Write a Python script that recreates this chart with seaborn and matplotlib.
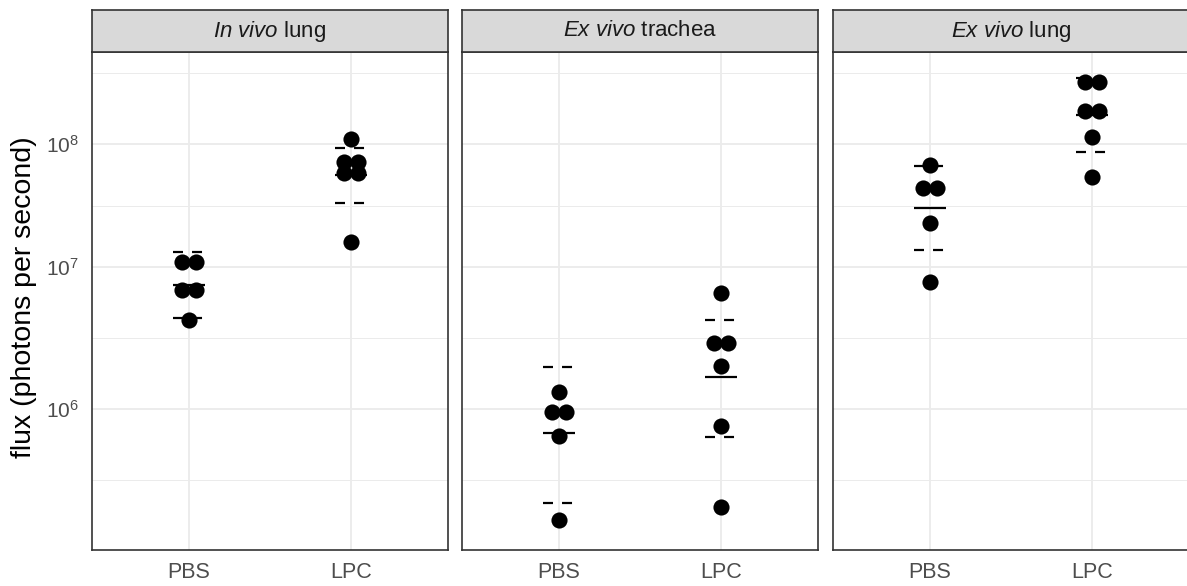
import numpy as np
import pandas as pd
import matplotlib
matplotlib.use("Agg")
import matplotlib.pyplot as plt
from matplotlib.ticker import FixedLocator, FuncFormatter, NullFormatter
import seaborn as sns

# ---- data -------------------------------------------------------------
treatments = ["PBS", "LPC"]
tissues = ["In vivo lung", "Ex vivo trachea", "Ex vivo lung"]
strip_titles = [r"$\mathit{In\ vivo}$ lung",
                r"$\mathit{Ex\ vivo}$ trachea",
                r"$\mathit{Ex\ vivo}$ lung"]

in_vivo_lung_pbs = [1.10e7, 1.10e7, 6.73e6, 6.73e6, 4.06e6]
in_vivo_lung_lpc = [1.11e8, 6.97e7, 6.97e7, 5.62e7, 5.62e7, 1.57e7]
ex_vivo_trachea_pbs = [1.30e6, 9.52e5, 9.52e5, 6.71e5, 2.09e5]
ex_vivo_trachea_lpc = [6.43e6, 2.81e6, 2.81e6, 1.94e6, 7.81e5, 2.47e5]
ex_vivo_lung_pbs = [6.61e7, 4.21e7, 4.21e7, 2.22e7, 7.76e6]
ex_vivo_lung_lpc = [3.63e8, 3.63e8, 1.96e8, 1.96e8, 1.16e8, 5.26e7]

# group summaries (mean and 95% interval), order: tissue x treatment
summary_mean = [7.33e6, 5.39e7, 7.01e5, 1.64e6, 2.89e7, 1.80e8]
summary_low = [4.20e6, 3.21e7, 2.61e5, 6.64e5, 1.34e7, 8.49e7]
summary_high = [1.30e7, 9.19e7, 1.90e6, 4.06e6, 6.52e7, 3.96e8]

major_breaks = [1e6, 1e7, 1e8]
y_limits = (1.408e5, 6.92e8)

groups = [
    ("In vivo lung", "PBS", in_vivo_lung_pbs),
    ("In vivo lung", "LPC", in_vivo_lung_lpc),
    ("Ex vivo trachea", "PBS", ex_vivo_trachea_pbs),
    ("Ex vivo trachea", "LPC", ex_vivo_trachea_lpc),
    ("Ex vivo lung", "PBS", ex_vivo_lung_pbs),
    ("Ex vivo lung", "LPC", ex_vivo_lung_lpc),
]


def stack_offsets(values, step):
    """Centre-stack points that share a value (dot-plot style)."""
    vals = np.asarray(values)
    out = np.zeros(len(vals))
    for v in np.unique(vals):
        idx = np.where(vals == v)[0]
        out[idx] = (np.arange(len(idx)) - (len(idx) - 1) / 2) * step
    return out


rows = []
for tissue, trt, vals in groups:
    xi = treatments.index(trt)
    for v, off in zip(vals, stack_offsets(vals, 0.09)):
        rows.append({"tissue": tissue, "treatment": trt,
                     "xpos": xi + off, "flux": v})
df = pd.DataFrame(rows)


# ---- log-log y transform ------------------------------------------------
def fwd(v):
    v = np.clip(np.asarray(v, dtype=float), 10.0, None)
    return np.log(np.log10(v))


def inv(u):
    return 10 ** np.exp(np.asarray(u, dtype=float))


u_major = fwd(major_breaks)
bd = u_major[1] - u_major[0]
u_ext = np.concatenate([[u_major[0] - bd], u_major, [u_major[-1] + bd]])
minor_breaks = inv((u_ext[:-1] + u_ext[1:]) / 2)

# ---- style --------------------------------------------------------------
sns.set_style("white")
plt.rcParams["font.family"] = ["Liberation Sans", "DejaVu Sans"]
plt.rcParams["mathtext.fontset"] = "custom"
plt.rcParams["mathtext.rm"] = "Liberation Sans"
plt.rcParams["mathtext.it"] = "Liberation Sans:italic"
plt.rcParams["mathtext.bf"] = "Liberation Sans:bold"
plt.rcParams["lines.scale_dashes"] = False

W, H = 1187, 586
fig = plt.figure(figsize=(W / 100, H / 100), dpi=100)
fig.patch.set_facecolor("white")

panel_left_px = [92, 462, 833]
panel_w_px = 356
panel_top_px, panel_bot_px = 52, 550
strip_top_px = 10

border_col = "#333333"

for k, tissue in enumerate(tissues):
    left = panel_left_px[k] / W
    width = panel_w_px / W
    bottom = (H - panel_bot_px) / H
    height = (panel_bot_px - panel_top_px) / H
    ax = fig.add_axes([left, bottom, width, height])
    ax.set_yscale("function", functions=(fwd, inv))
    ax.set_ylim(*y_limits)
    ax.set_xlim(-0.6, 1.6)
    ax.set_facecolor("white")

    sub = df[df["tissue"] == tissue]
    sns.scatterplot(data=sub, x="xpos", y="flux", color="black", s=135,
                    linewidth=0, ax=ax, legend=False, zorder=3)

    for i, trt in enumerate(treatments):
        g = k * 2 + i
        ax.plot([i - 0.1, i + 0.1], [summary_mean[g]] * 2, color="black",
                lw=1.6, solid_capstyle="butt", zorder=4)
        for yv in (summary_low[g], summary_high[g]):
            ax.plot([i - 0.1, i + 0.1], [yv] * 2, color="black", lw=1.6,
                    dashes=(7.2, 6.5), dash_capstyle="butt", zorder=4)

    ax.xaxis.set_major_locator(FixedLocator([0, 1]))
    ax.set_xticklabels(treatments)
    ax.yaxis.set_major_locator(FixedLocator(major_breaks))
    ax.yaxis.set_minor_locator(FixedLocator(minor_breaks))
    ax.yaxis.set_minor_formatter(NullFormatter())
    if k == 0:
        ax.yaxis.set_major_formatter(
            FuncFormatter(lambda v, p: r"$10^{%d}$" % round(np.log10(v))))
        ax.tick_params(axis="y", which="major", direction="inout",
                       length=10, width=1.5, color="black",
                       labelsize=15, labelcolor="#4D4D4D", pad=4.5)
    else:
        ax.yaxis.set_major_formatter(NullFormatter())
        ax.tick_params(axis="y", which="major", direction="in",
                       length=5.8, width=1.5, color="black")
    ax.tick_params(axis="y", which="minor", length=0)
    ax.tick_params(axis="x", which="major", direction="out", length=5,
                   width=1.1, color=border_col, labelsize=15.5,
                   labelcolor="#4D4D4D", pad=4)

    ax.grid(True, which="major", axis="both", color="#EBEBEB", lw=1.3)
    ax.grid(True, which="minor", axis="y", color="#EBEBEB", lw=0.7)
    ax.set_axisbelow(True)
    ax.set_xlabel("")
    ax.set_ylabel("")
    for sp in ax.spines.values():
        sp.set_visible(True)
        sp.set_color(border_col)
        sp.set_linewidth(1.2)

    # facet strip
    sax = fig.add_axes([left, (H - panel_top_px) / H, width,
                        (panel_top_px - strip_top_px) / H])
    sax.set_facecolor("#D9D9D9")
    sax.set_xticks([])
    sax.set_yticks([])
    for sp in sax.spines.values():
        sp.set_color(border_col)
        sp.set_linewidth(1.2)
    sax.text(0.5, 0.5, strip_titles[k], ha="center", va="center",
             fontsize=16, color="#1A1A1A", transform=sax.transAxes)

fig.text(24 / W, (H - 297) / H, "flux (photons per second)", rotation=90,
         ha="center", va="center", fontsize=20.5, color="black")

fig.savefig("out.png", dpi=100)
